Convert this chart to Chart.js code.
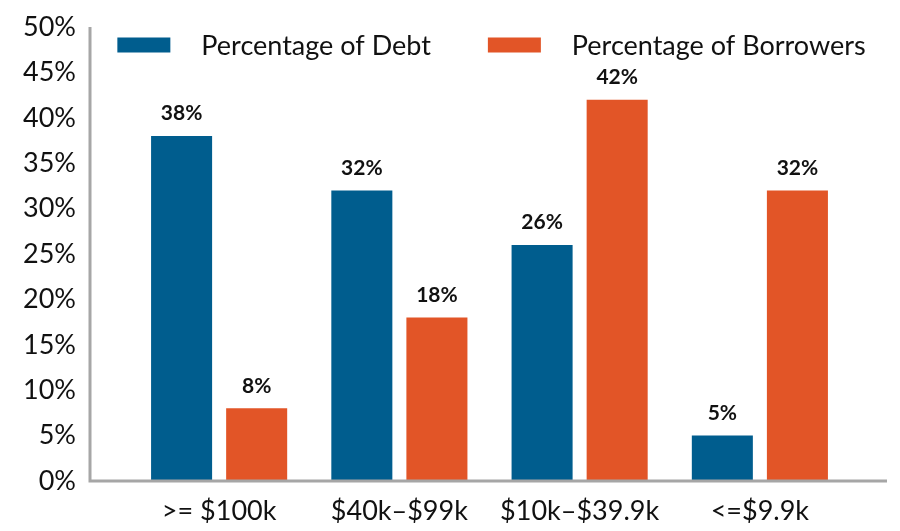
<!DOCTYPE html>
<html>
<head>
<meta charset="utf-8">
<script src="https://cdn.jsdelivr.net/npm/chart.js@4/dist/chart.umd.min.js"></script>
<style>
  html, body { margin: 0; padding: 0; background: #fff; }
  canvas { display: block; }
</style>
</head>
<body>
<canvas id="Chart1" width="900" height="531"></canvas>
<script>
var categories = [">= $100k", "$40k\u2013$99k", "$10k\u2013$39.9k", "<=$9.9k"];
var debtShare = [38, 32, 26, 5];
var borrowerShare = [8, 18, 42, 32];
var seriesNames = ["Percentage of Debt", "Percentage of Borrowers"];
var seriesColors = ["#005d8e", "#e25527"];

var FONT = "Lato, 'Open Sans', sans-serif";
var AXIS = "#a6a6a6";

// axis lines reach a bit past the plot area, like the original
var axisLines = {
  id: 'axisLines',
  afterDraw: function (chart) {
    var c = chart.ctx, a = chart.chartArea;
    c.save();
    c.strokeStyle = AXIS;
    c.lineWidth = 3;
    c.beginPath();
    c.moveTo(a.left - 39, a.top);
    c.lineTo(a.left - 39, a.bottom);
    c.lineTo(a.right + 37, a.bottom);
    c.stroke();
    c.restore();
  }
};

var valueLabels = {
  id: 'valueLabels',
  afterDatasetsDraw: function (chart) {
    var c = chart.ctx;
    c.save();
    c.fillStyle = "#111";
    c.font = "bold 21px " + FONT;
    c.textAlign = "center";
    c.textBaseline = "bottom";
    chart.data.datasets.forEach(function (ds, i) {
      chart.getDatasetMeta(i).data.forEach(function (bar, j) {
        c.fillText(ds.data[j] + "%", bar.x, bar.y - 12);
      });
    });
    c.restore();
  }
};

var boxLegend = {
  id: 'boxLegend',
  afterDraw: function (chart) {
    var c = chart.ctx, a = chart.chartArea;
    var ds = chart.data.datasets;
    c.save();
    c.font = "27px " + FONT;
    c.textBaseline = "middle";
    var boxW = 53, boxH = 15, gapText = 31, gapItem = 57;
    var total = 0;
    ds.forEach(function (d, i) {
      total += boxW + gapText + c.measureText(d.label).width + (i < ds.length - 1 ? gapItem : 0);
    });
    var x = (a.left + a.right) / 2 - total / 2 + 2;
    var y = a.top + 18;
    ds.forEach(function (d) {
      c.fillStyle = d.backgroundColor;
      c.fillRect(x, y - boxH / 2, boxW, boxH);
      c.fillStyle = "#111";
      c.fillText(d.label, x + boxW + gapText, y + 1);
      x += boxW + gapText + c.measureText(d.label).width + gapItem;
    });
    c.restore();
  }
};

var ctx1 = document.getElementById("Chart1").getContext('2d');
var Chart1 = new Chart(ctx1, {
  type: 'bar',
  data: {
    labels: categories,
    datasets: [{
      label: seriesNames[0],
      backgroundColor: seriesColors[0],
      data: debtShare
    }, {
      label: seriesNames[1],
      backgroundColor: seriesColors[1],
      data: borrowerShare
    }]
  },
  options: {
    responsive: false,
    animation: false,
    layout: { autoPadding: false, padding: { top: 27, right: 50, left: 0, bottom: 0 } },
    categoryPercentage: 0.833,
    barPercentage: 0.813,
    plugins: {
      legend: { display: false },
      tooltip: { enabled: false }
    },
    scales: {
      x: {
        grid: { display: false, drawTicks: false },
        border: { display: false },
        afterFit: function (s) { s.height = 50; },
        ticks: { color: "#111", padding: 14, font: { family: FONT, size: 27 } }
      },
      y: {
        min: 0,
        max: 50,
        grid: { display: false, drawTicks: false },
        border: { display: false },
        afterFit: function (s) { s.width = 129; s.paddingTop = 0; s.paddingBottom = 0; },
        ticks: {
          stepSize: 5,
          padding: 53,
          color: "#111",
          font: { family: FONT, size: 27 },
          callback: function (v) { return v + "%"; }
        }
      }
    }
  },
  plugins: [axisLines, valueLabels, boxLegend]
});
</script>
</body>
</html>
